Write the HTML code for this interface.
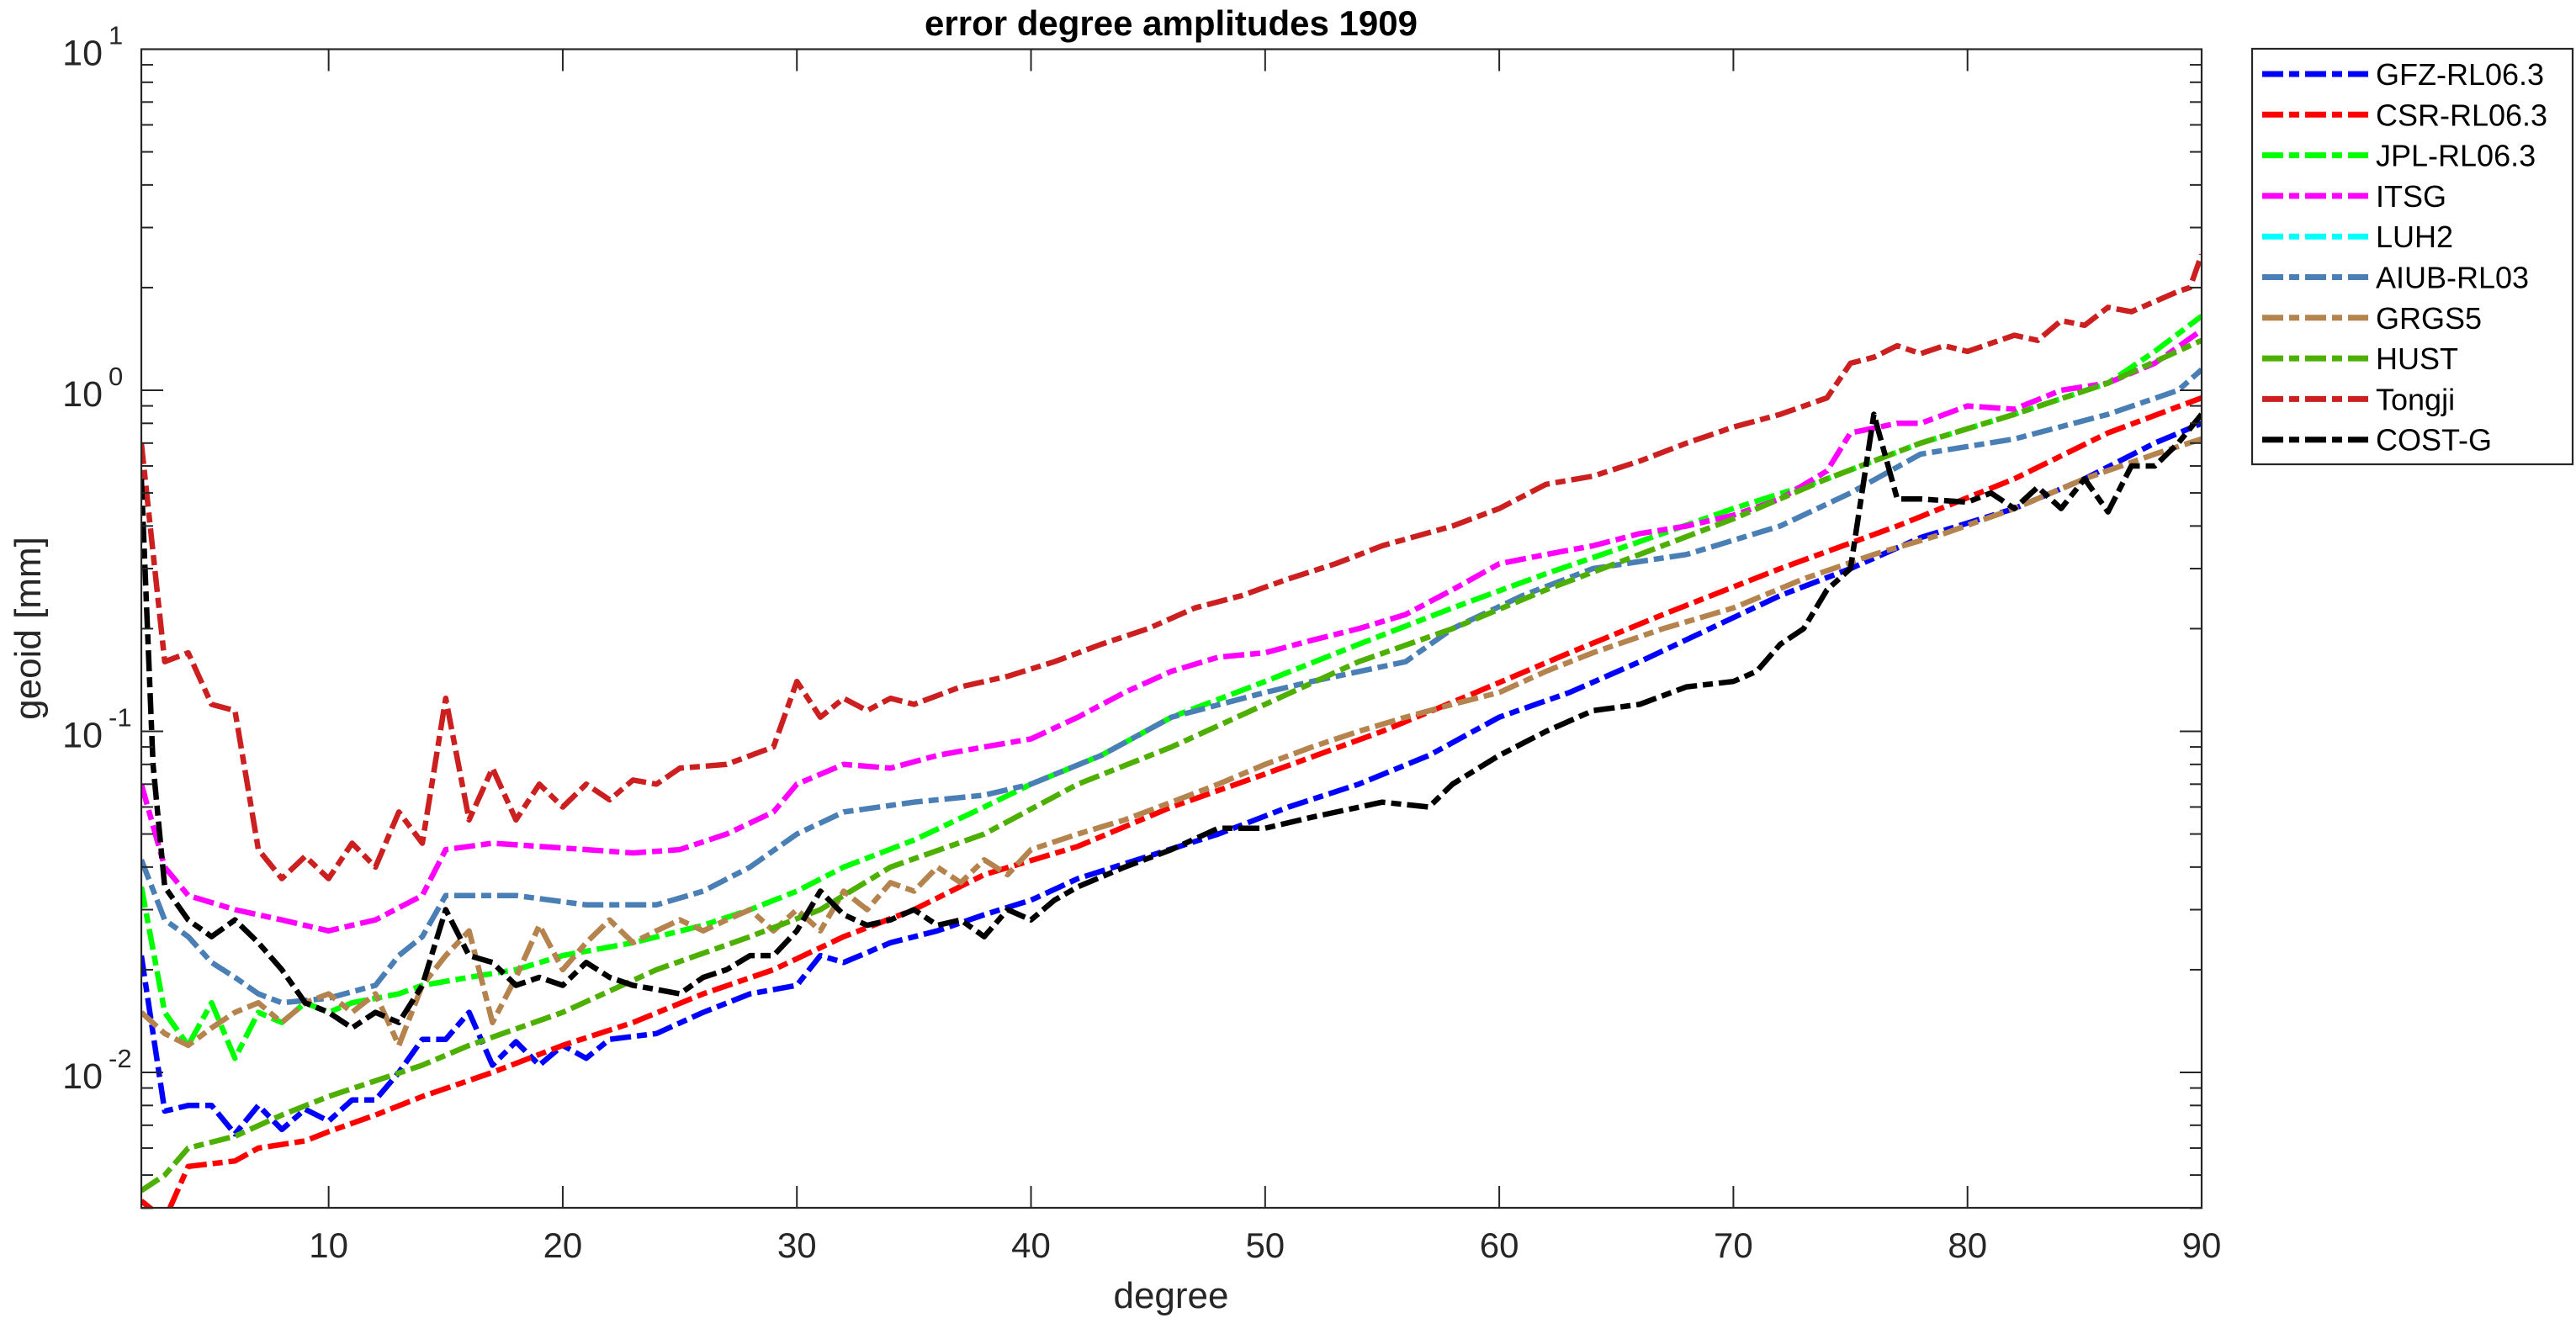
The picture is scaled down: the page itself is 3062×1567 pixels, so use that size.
<!DOCTYPE html>
<html><head><meta charset="utf-8"><style>
html,body{margin:0;padding:0;background:#fff;}
svg{display:block;font-family:"Liberation Sans",Arial,sans-serif;}
</style></head><body>
<svg id="s" width="3062" height="1567" viewBox="0 0 3062 1567" xmlns="http://www.w3.org/2000/svg">
<rect width="3062" height="1567" fill="#fff"/>
<text x="1392" y="42" font-size="42" font-weight="bold" text-anchor="middle" fill="#000">error degree amplitudes 1909</text>
<g id="plot"></g>
<g id="axes"></g>
<text x="1392" y="1555" font-size="44" text-anchor="middle" fill="#262626">degree</text>
<text transform="translate(48,747) rotate(-90)" font-size="44" text-anchor="middle" fill="#262626">geoid [mm]</text>
<g id="legend"></g>
</svg>
<script>
var L=168,R=2617,T=58.5,B=1436,dec=405.5,y0=464;
function X(n){return L+(n-2)*(R-L)/88;}
function Y(v){return y0-Math.log10(v)*dec;}
var ns="http://www.w3.org/2000/svg";
function el(p,t,a){var e=document.createElementNS(ns,t);for(var k in a)e.setAttribute(k,a[k]);p.appendChild(e);return e;}
var S=[
["GFZ-RL06.3","#0000FF",[[2,.022],[3,.0077],[4,.008],[5,.008],[6,.0066],[7,.008],[8,.0068],[9,.0078],[10,.0072],[11,.0083],[12,.0083],[13,.01],[14,.0125],[15,.0125],[16,.015],[17,.0105],[18,.0123],[19,.0105],[20,.012],[21,.011],[22,.0125],[24,.013],[26,.015],[28,.017],[30,.018],[31,.022],[32,.021],[34,.024],[36,.026],[38,.029],[40,.032],[42,.037],[45,.043],[48,.05],[51,.06],[54,.07],[57,.085],[60,.11],[63,.13],[66,.16],[69,.2],[72,.25],[75,.3],[78,.37],[82,.45],[85,.55],[88,.7],[90,.8]]],
["CSR-RL06.3","#FF0000",[[2,.0042],[3,.0037],[4,.0053],[6,.0055],[7,.006],[9,.0063],[10,.0067],[12,.0075],[14,.0085],[17,.01],[20,.012],[23,.014],[26,.017],[29,.02],[32,.025],[35,.03],[38,.038],[42,.046],[46,.06],[50,.075],[55,.1],[59,.13],[63,.17],[67,.22],[72,.3],[77,.4],[82,.55],[86,.75],[90,.95]]],
["JPL-RL06.3","#00FF00",[[2,.035],[3,.015],[4,.012],[5,.016],[6,.011],[7,.015],[8,.014],[9,.016],[10,.015],[11,.016],[13,.017],[14,.018],[16,.019],[18,.02],[20,.022],[23,.024],[26,.027],[28,.03],[30,.034],[32,.04],[35,.048],[38,.06],[40,.07],[43,.085],[46,.11],[50,.14],[54,.18],[58,.23],[62,.29],[66,.36],[70,.45],[74,.55],[78,.7],[82,.85],[86,1.05],[88,1.3],[90,1.65]]],
["ITSG","#FF00FF",[[2,.07],[3,.04],[4,.033],[6,.03],[8,.028],[10,.026],[11,.027],[12,.028],[14,.033],[15,.045],[17,.047],[19,.046],[21,.045],[23,.044],[25,.045],[27,.05],[29,.058],[30,.07],[32,.08],[34,.078],[36,.085],[38,.09],[40,.095],[42,.11],[44,.13],[46,.15],[48,.165],[50,.17],[52,.185],[54,.2],[56,.22],[58,.26],[60,.31],[62,.33],[64,.35],[66,.38],[68,.4],[70,.43],[72,.48],[74,.58],[75,.75],[77,.8],[78,.8],[80,.9],[82,.88],[84,1.0],[86,1.05],[88,1.2],[90,1.5]]],
["LUH2","#00FFFF",null],
["AIUB-RL03","#4A7FB5",[[2,.042],[3,.028],[4,.025],[5,.021],[6,.019],[7,.017],[8,.016],[10,.0165],[12,.018],[13,.022],[14,.025],[15,.033],[18,.033],[21,.031],[24,.031],[26,.034],[28,.04],[30,.05],[32,.058],[35,.062],[38,.065],[40,.07],[43,.085],[46,.11],[50,.13],[52,.14],[56,.16],[58,.2],[61,.25],[64,.3],[68,.33],[72,.4],[75,.5],[78,.65],[82,.72],[86,.85],[89,1.0],[90,1.15]]],
["GRGS5","#B5834E",[[2,.015],[3,.013],[4,.012],[5,.0135],[6,.015],[7,.016],[8,.014],[9,.016],[10,.017],[11,.015],[12,.017],[13,.012],[14,.018],[15,.022],[16,.026],[17,.014],[18,.019],[19,.027],[20,.02],[21,.024],[22,.028],[23,.024],[24,.026],[25,.028],[26,.026],[27,.028],[28,.03],[29,.026],[30,.03],[31,.026],[32,.034],[33,.03],[34,.036],[35,.034],[36,.04],[37,.036],[38,.042],[39,.038],[40,.045],[42,.05],[44,.055],[46,.062],[48,.07],[50,.08],[52,.09],[54,.1],[56,.11],[58,.12],[60,.13],[62,.15],[64,.17],[67,.2],[70,.23],[73,.28],[76,.33],[79,.38],[82,.45],[85,.55],[88,.65],[90,.72]]],
["HUST","#4DAF00",[[2,.0045],[3,.005],[4,.006],[6,.0065],[8,.0075],[10,.0085],[14,.0105],[16,.012],[20,.015],[24,.02],[28,.025],[31,.03],[34,.04],[38,.05],[42,.07],[46,.09],[50,.12],[54,.16],[58,.2],[62,.26],[66,.33],[70,.42],[74,.55],[78,.7],[82,.85],[86,1.05],[90,1.4]]],
["Tongji","#CC1F1F",[[2,.7],[3,.16],[4,.17],[5,.12],[6,.115],[7,.045],[8,.037],[9,.043],[10,.037],[11,.047],[12,.04],[13,.058],[14,.047],[15,.125],[16,.055],[17,.078],[18,.055],[19,.07],[20,.06],[21,.07],[22,.063],[23,.072],[24,.07],[25,.078],[27,.08],[29,.09],[30,.14],[31,.11],[32,.125],[33,.115],[34,.125],[35,.12],[37,.135],[39,.145],[41,.16],[43,.18],[45,.2],[47,.23],[49,.25],[51,.28],[53,.31],[55,.35],[58,.4],[60,.45],[62,.53],[64,.56],[66,.62],[68,.7],[70,.78],[72,.85],[74,.95],[75,1.2],[76,1.25],[77,1.35],[78,1.28],[79,1.35],[80,1.3],[82,1.45],[83,1.4],[84,1.6],[85,1.55],[86,1.75],[87,1.7],[89,1.95],[89.5,2.0],[90,2.5]]],
["COST-G","#000000",[[2,.55],[2.5,.08],[3,.035],[4,.028],[5,.025],[6,.028],[7,.024],[8,.02],[9,.016],[10,.015],[11,.0135],[12,.015],[13,.014],[14,.018],[15,.03],[16,.022],[17,.021],[18,.018],[19,.019],[20,.018],[21,.021],[22,.019],[23,.018],[24,.0175],[25,.017],[26,.019],[27,.02],[28,.022],[29,.022],[30,.026],[31,.034],[32,.029],[33,.027],[34,.028],[35,.03],[36,.027],[37,.028],[38,.025],[39,.03],[40,.028],[41,.032],[42,.035],[44,.04],[46,.045],[48,.052],[50,.052],[52,.056],[55,.062],[57,.06],[58,.07],[60,.085],[62,.1],[64,.115],[66,.12],[68,.135],[70,.14],[71,.15],[72,.18],[73,.2],[74,.26],[75,.3],[76,.85],[77,.48],[78,.48],[80,.47],[81,.5],[82,.45],[83,.52],[84,.45],[85,.55],[86,.44],[87,.6],[88,.6],[89,.7],[90,.85]]]
];
var plot=document.getElementById("plot");
var cp=el(plot,"clipPath",{id:"c"});el(cp,"rect",{x:L,y:T,width:R-L,height:B-T});
var g=el(plot,"g",{"clip-path":"url(#c)"});
var DA="25 7 12 7";
S.forEach(function(s){if(!s[2])return;
 var d=s[2].map(function(p){return X(p[0]).toFixed(1)+","+Y(p[1]).toFixed(1);}).join(" ");
 el(g,"polyline",{points:d,fill:"none",stroke:s[1],"stroke-width":6.5,"stroke-dasharray":DA,"stroke-linejoin":"round"});
});
var ax=document.getElementById("axes"),C="#262626";
el(ax,"rect",{x:L,y:T,width:R-L,height:B-T,fill:"none",stroke:C,"stroke-width":2.2});
for(var n=10;n<=90;n+=10){var x=X(n);
 el(ax,"line",{x1:x,y1:B,x2:x,y2:B-26,stroke:C,"stroke-width":2});
 el(ax,"line",{x1:x,y1:T,x2:x,y2:T+26,stroke:C,"stroke-width":2});
 var t=el(ax,"text",{x:x,y:1495,"font-size":42,"text-anchor":"middle",fill:C});t.textContent=n;}
for(var e=-3;e<=1;e++){for(var m=1;m<10;m++){var v=m*Math.pow(10,e),y=Y(v);
 if(y<T-0.5||y>B+0.5)continue;var len=(m==1)?26:14;
 el(ax,"line",{x1:L,y1:y,x2:L+len,y2:y,stroke:C,"stroke-width":2});
 el(ax,"line",{x1:R,y1:y,x2:R-len,y2:y,stroke:C,"stroke-width":2});
 if(m==1){var t=el(ax,"text",{x:122,y:y+19,"font-size":43,"text-anchor":"end",fill:C});t.textContent="10";
  var t2=el(ax,"text",{x:129,y:y-6,"font-size":31,"text-anchor":"start",fill:C});t2.textContent=String(e);}}}
var lg=document.getElementById("legend");
el(lg,"rect",{x:2677,y:58,width:381,height:494,fill:"#fff",stroke:C,"stroke-width":2.2});
S.forEach(function(s,i){var y=88+i*48.3;
 el(lg,"line",{x1:2689,y1:y,x2:2815,y2:y,stroke:s[1],"stroke-width":7,"stroke-dasharray":DA});
 var t=el(lg,"text",{x:2824,y:y+13,"font-size":36,fill:"#000"});t.textContent=s[0];});
</script>
</body></html>
